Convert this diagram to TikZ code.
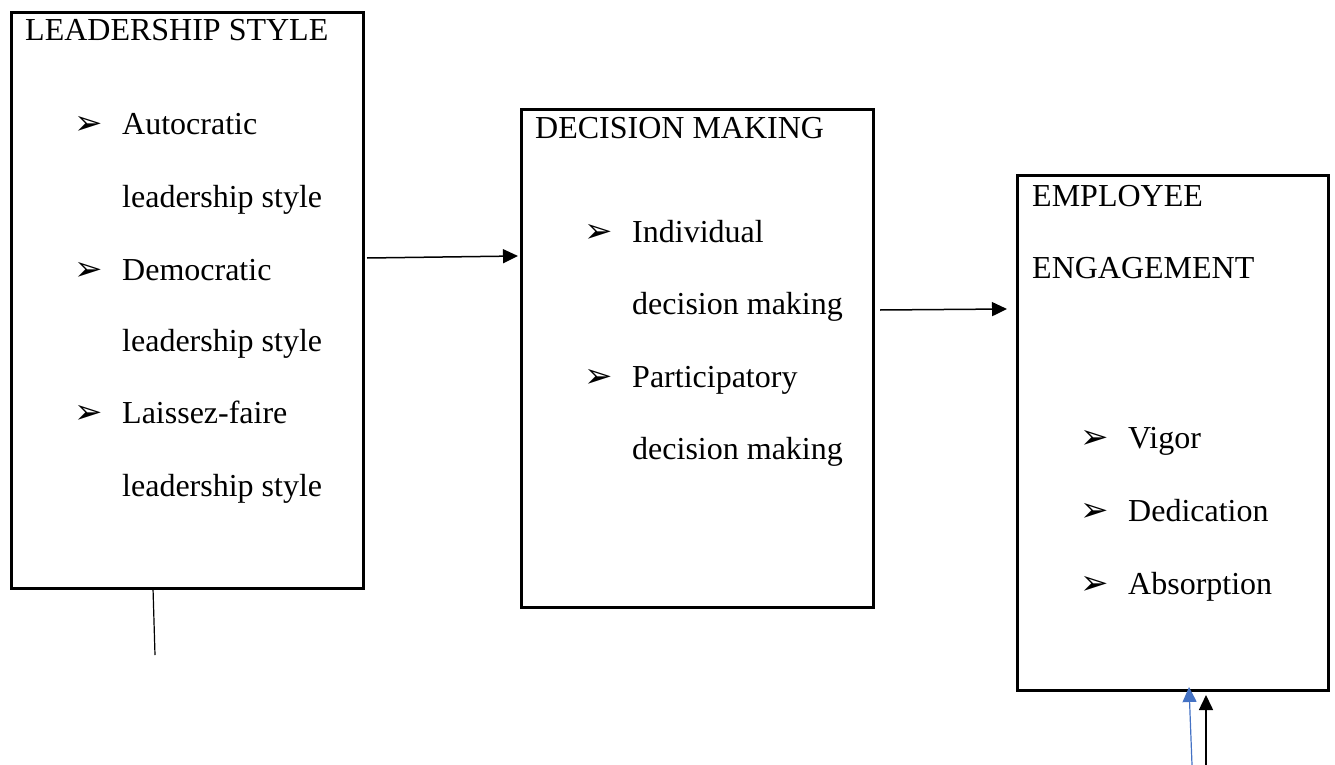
\documentclass[tikz,border=0pt]{standalone}
\usepackage{fontspec}
\setmainfont{Liberation Serif}
\newfontfamily\bulletfont{DejaVu Sans}
\usetikzlibrary{arrows.meta}
\definecolor{arrowblue}{HTML}{4472C4}
\tikzset{
  box/.style={draw, line width=3pt, inner sep=0pt, outer sep=0pt},
  txt/.style={anchor=base west, inner sep=0pt, font=\fontsize{32}{38}\selectfont},
  bul/.style={anchor=base west, inner sep=0pt, font=\bulletfont\fontsize{34}{40}\selectfont},
  conn/.style={line width=1.5pt, -{Triangle[length=15pt,width=14pt]}},
}
\begin{document}
\begin{tikzpicture}[x=1pt,y=-1pt]
\useasboundingbox (0,0) rectangle (1335,765);
% boxes
\node[box, minimum width=352pt, minimum height=575pt] (lead) at (187,300.5) {};
\node[box, minimum width=352pt, minimum height=497pt] (dec) at (697,358.5) {};
\node[box, minimum width=311pt, minimum height=515pt] (eng) at (1172.5,432.5) {};
% box 1 text
\node[txt] (h1) at (25,41) {LEADERSHIP STYLE};
\node[bul] (b11) at (74,135) {➢};
\node[txt] (t11) at (122,135) {Autocratic};
\node[txt] (t12) at (122,207) {leadership style};
\node[bul] (b12) at (74,280) {➢};
\node[txt] (t13) at (122,280) {Democratic};
\node[txt] (t14) at (122,351) {leadership style};
\node[bul] (b13) at (74,423) {➢};
\node[txt] (t15) at (122,423) {Laissez-faire};
\node[txt] (t16) at (122,496) {leadership style};
% box 2 text
\node[txt] (h2) at (535,139) {DECISION MAKING};
\node[bul] (b21) at (584,242) {➢};
\node[txt] (t21) at (632,242) {Individual};
\node[txt] (t22) at (632,314) {decision making};
\node[bul] (b22) at (584,387) {➢};
\node[txt] (t23) at (632,387) {Participatory};
\node[txt] (t24) at (632,459) {decision making};
% box 3 text
\node[txt] (h3a) at (1032,206) {EMPLOYEE};
\node[txt] (h3b) at (1032,278) {ENGAGEMENT};
\node[bul] (b31) at (1080,448) {➢};
\node[txt] (t31) at (1128,448) {Vigor};
\node[bul] (b32) at (1080,521) {➢};
\node[txt] (t32) at (1128,521) {Dedication};
\node[bul] (b33) at (1080,594) {➢};
\node[txt] (t33) at (1128,594) {Absorption};
% connectors
\coordinate (a1s) at (367,258);
\coordinate (a1e) at (518,256);
\coordinate (a2s) at (880,310);
\coordinate (a2e) at (1007,309);
\coordinate (ls) at (153,588);
\coordinate (le) at (155,655);
\coordinate (bls) at (1192,765);
\coordinate (ble) at (1189,687);
\coordinate (kls) at (1206,765);
\coordinate (kle) at (1206,695);
\draw[conn] (a1s) -- (a1e);
\draw[conn] (a2s) -- (a2e);
\draw[line width=1.2pt] (ls) -- (le);
\draw[conn, arrowblue, line width=1.2pt] (bls) -- (ble);
\draw[conn] (kls) -- (kle);
\end{tikzpicture}
\end{document}
